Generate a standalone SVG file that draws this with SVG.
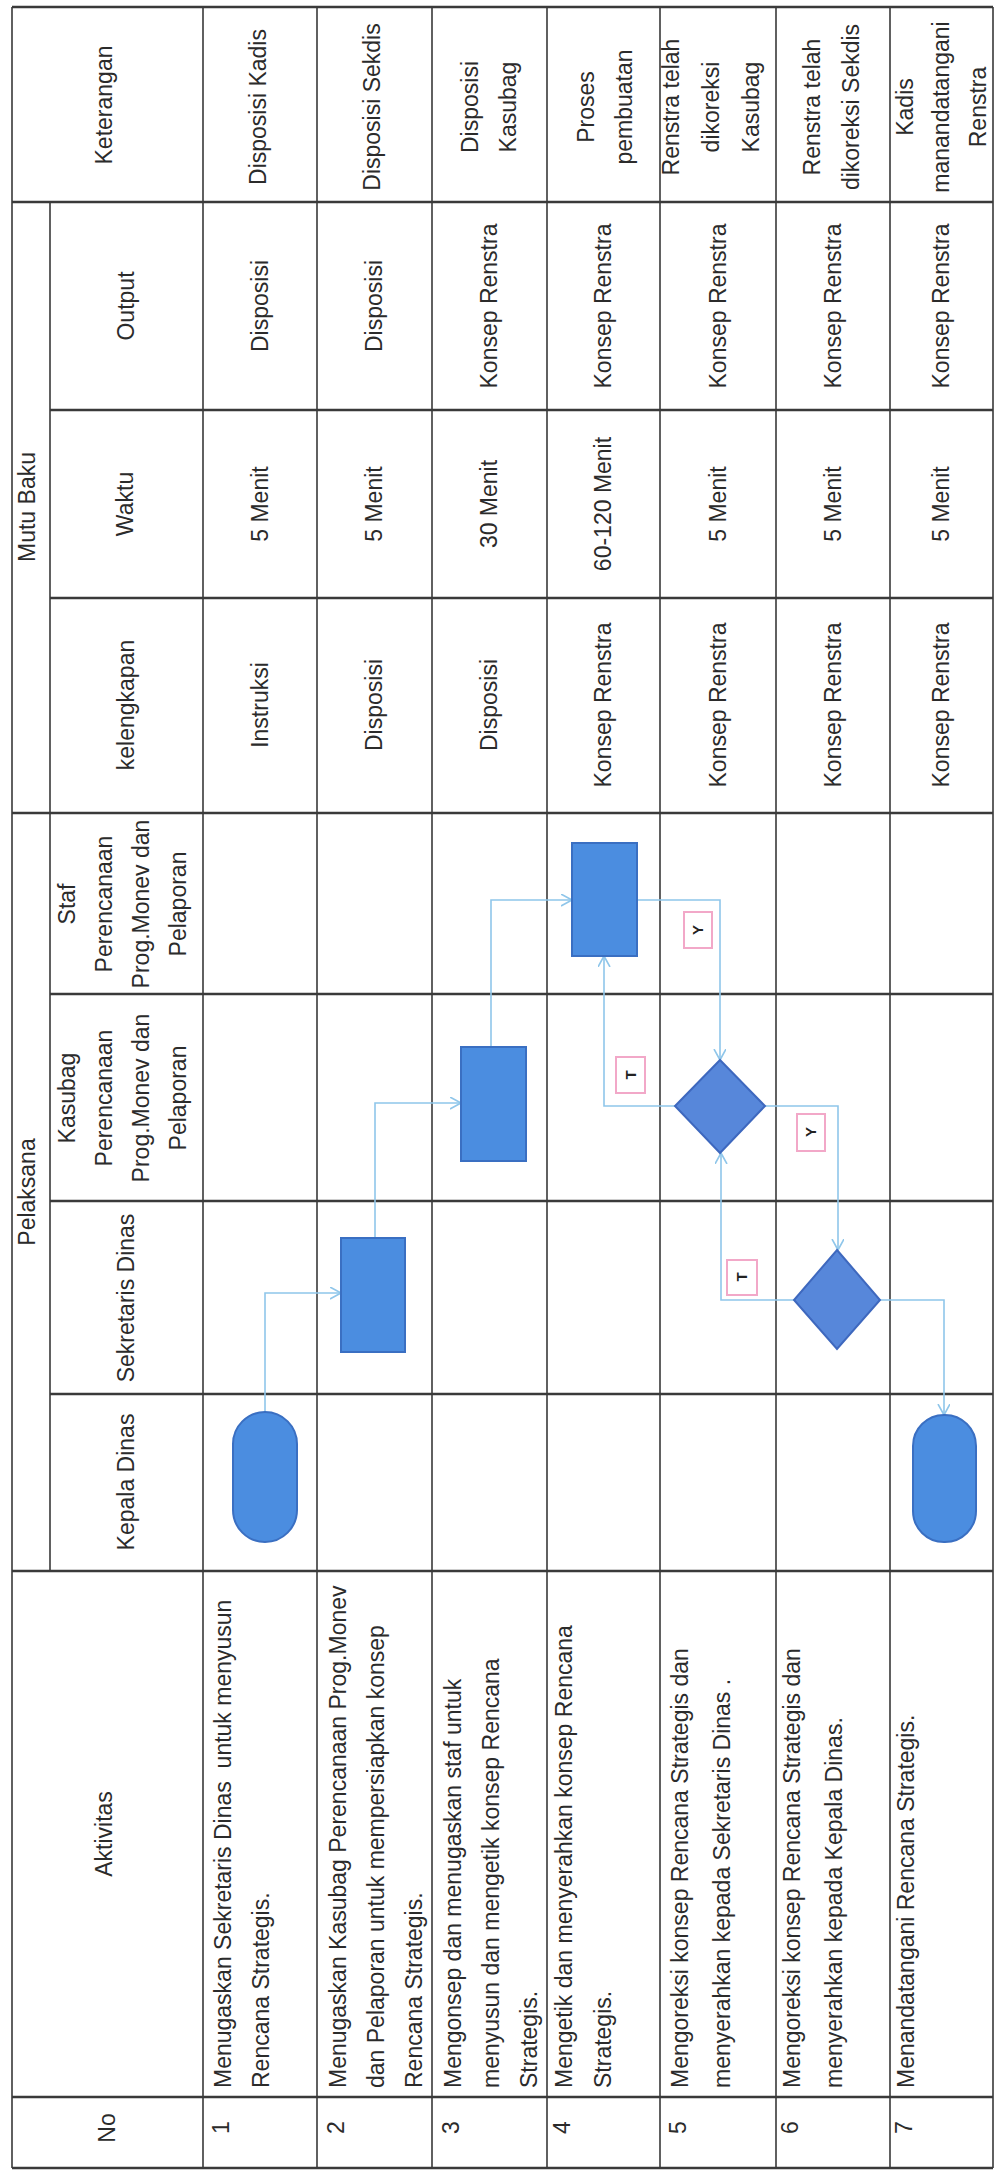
<svg xmlns="http://www.w3.org/2000/svg" width="1000" height="2173" viewBox="0 0 1000 2173">
<style>
.t{font-family:"Liberation Sans",Arial,sans-serif;font-size:23px;fill:#2b2b2b}
.m{text-anchor:middle}
.g1{stroke:#3a3a3a;stroke-width:1.6;fill:none}
.g2{stroke:#3a3a3a;stroke-width:2.4;fill:none}
.box{fill:#4b8de0;stroke:#3a6fc2;stroke-width:2}
.dia{fill:#5787da;stroke:#3e68be;stroke-width:2}
.c{fill:none;stroke:#8fc6ea;stroke-width:1.6;marker-end:url(#arr)}
.lb{fill:#ffffff;stroke:#f2a8c8;stroke-width:2}
.lt{font-family:"Liberation Sans",Arial,sans-serif;font-size:15px;font-weight:bold;fill:#222;text-anchor:middle}
</style>
<defs>
<marker id="arr" markerUnits="userSpaceOnUse" markerWidth="14" markerHeight="14" refX="11" refY="6" orient="auto">
<path d="M0,0 L11,6 L0,12" fill="none" stroke="#8fc6ea" stroke-width="1.6"/>
</marker>
</defs>
<rect x="0" y="0" width="1000" height="2173" fill="#ffffff"/>
<g id="grid">
<path class="g1" d="M12,7V2168M203,7V2168M317,7V2168M432,7V2168M547,7V2168M660,7V2168M776,7V2168M890,7V2168M993,7V2168M50,202V1571"/>
<path class="g2" d="M12,7H993M12,202H993M50,410H993M50,598H993M12,813H993M50,994H993M50,1201H993M50,1394H993M12,1571H993M12,2097H993M12,2168H993"/>
</g>
<g id="headers">
<text class="t m" transform="translate(112,105) rotate(-90)">Keterangan</text>
<text class="t m" transform="translate(35,507) rotate(-90)">Mutu Baku</text>
<text class="t m" transform="translate(134,306) rotate(-90)">Output</text>
<text class="t m" transform="translate(133,504) rotate(-90)">Waktu</text>
<text class="t m" transform="translate(134,705) rotate(-90)">kelengkapan</text>
<text class="t m" transform="translate(35,1192) rotate(-90)">Pelaksana</text>
<text class="t m" transform="translate(75,904) rotate(-90)">Staf</text>
<text class="t m" transform="translate(112,904) rotate(-90)">Perencanaan</text>
<text class="t m" transform="translate(149,904) rotate(-90)">Prog.Monev dan</text>
<text class="t m" transform="translate(186,904) rotate(-90)">Pelaporan</text>
<text class="t m" transform="translate(75,1098) rotate(-90)">Kasubag</text>
<text class="t m" transform="translate(112,1098) rotate(-90)">Perencanaan</text>
<text class="t m" transform="translate(149,1098) rotate(-90)">Prog.Monev dan</text>
<text class="t m" transform="translate(186,1098) rotate(-90)">Pelaporan</text>
<text class="t m" transform="translate(134,1298) rotate(-90)">Sekretaris Dinas</text>
<text class="t m" transform="translate(134,1482) rotate(-90)">Kepala Dinas</text>
<text class="t m" transform="translate(112,1834) rotate(-90)">Aktivitas</text>
<text class="t m" transform="translate(115,2128) rotate(-90)">No</text>
</g>
<g id="nomor">
<text class="t" transform="translate(229,2134) rotate(-90)">1</text>
<text class="t" transform="translate(344,2134) rotate(-90)">2</text>
<text class="t" transform="translate(459,2134) rotate(-90)">3</text>
<text class="t" transform="translate(570,2134) rotate(-90)">4</text>
<text class="t" transform="translate(686,2134) rotate(-90)">5</text>
<text class="t" transform="translate(798,2134) rotate(-90)">6</text>
<text class="t" transform="translate(912,2134) rotate(-90)">7</text>
</g>
<g id="aktivitas">
<text class="t" xml:space="preserve" transform="translate(231,2088) rotate(-90)">Menugaskan Sekretaris Dinas  untuk menyusun</text>
<text class="t" transform="translate(269,2088) rotate(-90)">Rencana Strategis.</text>
<text class="t" transform="translate(346,2088) rotate(-90)">Menugaskan Kasubag Perencanaan Prog.Monev</text>
<text class="t" transform="translate(384,2088) rotate(-90)">dan Pelaporan untuk mempersiapkan konsep</text>
<text class="t" transform="translate(422,2088) rotate(-90)">Rencana Strategis.</text>
<text class="t" transform="translate(461,2088) rotate(-90)">Mengonsep dan menugaskan staf untuk</text>
<text class="t" transform="translate(499,2088) rotate(-90)">menyusun dan mengetik konsep Rencana</text>
<text class="t" transform="translate(537,2088) rotate(-90)">Strategis.</text>
<text class="t" transform="translate(572,2088) rotate(-90)">Mengetik dan menyerahkan konsep Rencana</text>
<text class="t" transform="translate(611,2088) rotate(-90)">Strategis.</text>
<text class="t" transform="translate(688,2088) rotate(-90)">Mengoreksi konsep Rencana Strategis dan</text>
<text class="t" transform="translate(730,2088) rotate(-90)">menyerahkan kepada Sekretaris Dinas .</text>
<text class="t" transform="translate(800,2088) rotate(-90)">Mengoreksi konsep Rencana Strategis dan</text>
<text class="t" transform="translate(842,2088) rotate(-90)">menyerahkan kepada Kepala Dinas.</text>
<text class="t" transform="translate(914,2088) rotate(-90)">Menandatangani Rencana Strategis.</text>
</g>
<g id="kelengkapan">
<text class="t m" transform="translate(268,705) rotate(-90)">Instruksi</text>
<text class="t m" transform="translate(382,705) rotate(-90)">Disposisi</text>
<text class="t m" transform="translate(497,705) rotate(-90)">Disposisi</text>
<text class="t m" transform="translate(611,705) rotate(-90)">Konsep Renstra</text>
<text class="t m" transform="translate(726,705) rotate(-90)">Konsep Renstra</text>
<text class="t m" transform="translate(841,705) rotate(-90)">Konsep Renstra</text>
<text class="t m" transform="translate(949,705) rotate(-90)">Konsep Renstra</text>
</g>
<g id="waktu">
<text class="t m" transform="translate(268,504) rotate(-90)">5 Menit</text>
<text class="t m" transform="translate(382,504) rotate(-90)">5 Menit</text>
<text class="t m" transform="translate(497,504) rotate(-90)">30 Menit</text>
<text class="t m" transform="translate(611,504) rotate(-90)">60-120 Menit</text>
<text class="t m" transform="translate(726,504) rotate(-90)">5 Menit</text>
<text class="t m" transform="translate(841,504) rotate(-90)">5 Menit</text>
<text class="t m" transform="translate(949,504) rotate(-90)">5 Menit</text>
</g>
<g id="output">
<text class="t m" transform="translate(268,306) rotate(-90)">Disposisi</text>
<text class="t m" transform="translate(382,306) rotate(-90)">Disposisi</text>
<text class="t m" transform="translate(497,306) rotate(-90)">Konsep Renstra</text>
<text class="t m" transform="translate(611,306) rotate(-90)">Konsep Renstra</text>
<text class="t m" transform="translate(726,306) rotate(-90)">Konsep Renstra</text>
<text class="t m" transform="translate(841,306) rotate(-90)">Konsep Renstra</text>
<text class="t m" transform="translate(949,306) rotate(-90)">Konsep Renstra</text>
</g>
<g id="keterangan">
<text class="t m" transform="translate(266,107) rotate(-90)">Disposisi Kadis</text>
<text class="t m" transform="translate(380,107) rotate(-90)">Disposisi Sekdis</text>
<text class="t m" transform="translate(478,107) rotate(-90)">Disposisi</text>
<text class="t m" transform="translate(516,107) rotate(-90)">Kasubag</text>
<text class="t m" transform="translate(594,107) rotate(-90)">Proses</text>
<text class="t m" transform="translate(632,107) rotate(-90)">pembuatan</text>
<text class="t m" transform="translate(679,107) rotate(-90)">Renstra telah</text>
<text class="t m" transform="translate(719,107) rotate(-90)">dikoreksi</text>
<text class="t m" transform="translate(759,107) rotate(-90)">Kasubag</text>
<text class="t m" transform="translate(820,107) rotate(-90)">Renstra telah</text>
<text class="t m" transform="translate(859,107) rotate(-90)">dikoreksi Sekdis</text>
<text class="t m" transform="translate(913,107) rotate(-90)">Kadis</text>
<text class="t m" transform="translate(949,107) rotate(-90)">manandatangani</text>
<text class="t m" transform="translate(986,107) rotate(-90)">Renstra</text>
</g>
<g id="connectors">
<path class="c" d="M265,1412V1293H341"/>
<path class="c" d="M375,1238V1103H461"/>
<path class="c" d="M491,1047V900H572"/>
<path class="c" d="M637,900H720V1060"/>
<path class="c" d="M675,1106H604V956"/>
<path class="c" d="M765,1106H838V1250"/>
<path class="c" d="M794,1300H721V1153"/>
<path class="c" d="M880,1300H944V1415"/>
</g>
<g id="node-start"><rect class="box" x="233" y="1412" width="64" height="130" rx="32" ry="32"/></g>
<g id="node-sekretaris"><rect class="box" x="341" y="1238" width="64" height="114"/></g>
<g id="node-kasubag"><rect class="box" x="461" y="1047" width="65" height="114"/></g>
<g id="node-staf"><rect class="box" x="572" y="843" width="65" height="113"/></g>
<g id="node-cek-kasubag"><polygon class="dia" points="720,1060 765,1106 720,1153 675,1106"/></g>
<g id="node-cek-sekretaris"><polygon class="dia" points="837,1250 880,1300 837,1349 794,1300"/></g>
<g id="node-end"><rect class="box" x="913" y="1415" width="63" height="127" rx="31" ry="31"/></g>
<g id="labels">
<g id="label-y1"><rect class="lb" x="684" y="912" width="28" height="36"/><text class="lt" transform="translate(703,930) rotate(-90)">Y</text></g>
<g id="label-t1"><rect class="lb" x="616" y="1057" width="29" height="36"/><text class="lt" transform="translate(636,1075) rotate(-90)">T</text></g>
<g id="label-y2"><rect class="lb" x="797" y="1114" width="28" height="37"/><text class="lt" transform="translate(816,1132) rotate(-90)">Y</text></g>
<g id="label-t2"><rect class="lb" x="727" y="1260" width="30" height="35"/><text class="lt" transform="translate(747,1277) rotate(-90)">T</text></g>
</g>
</svg>
